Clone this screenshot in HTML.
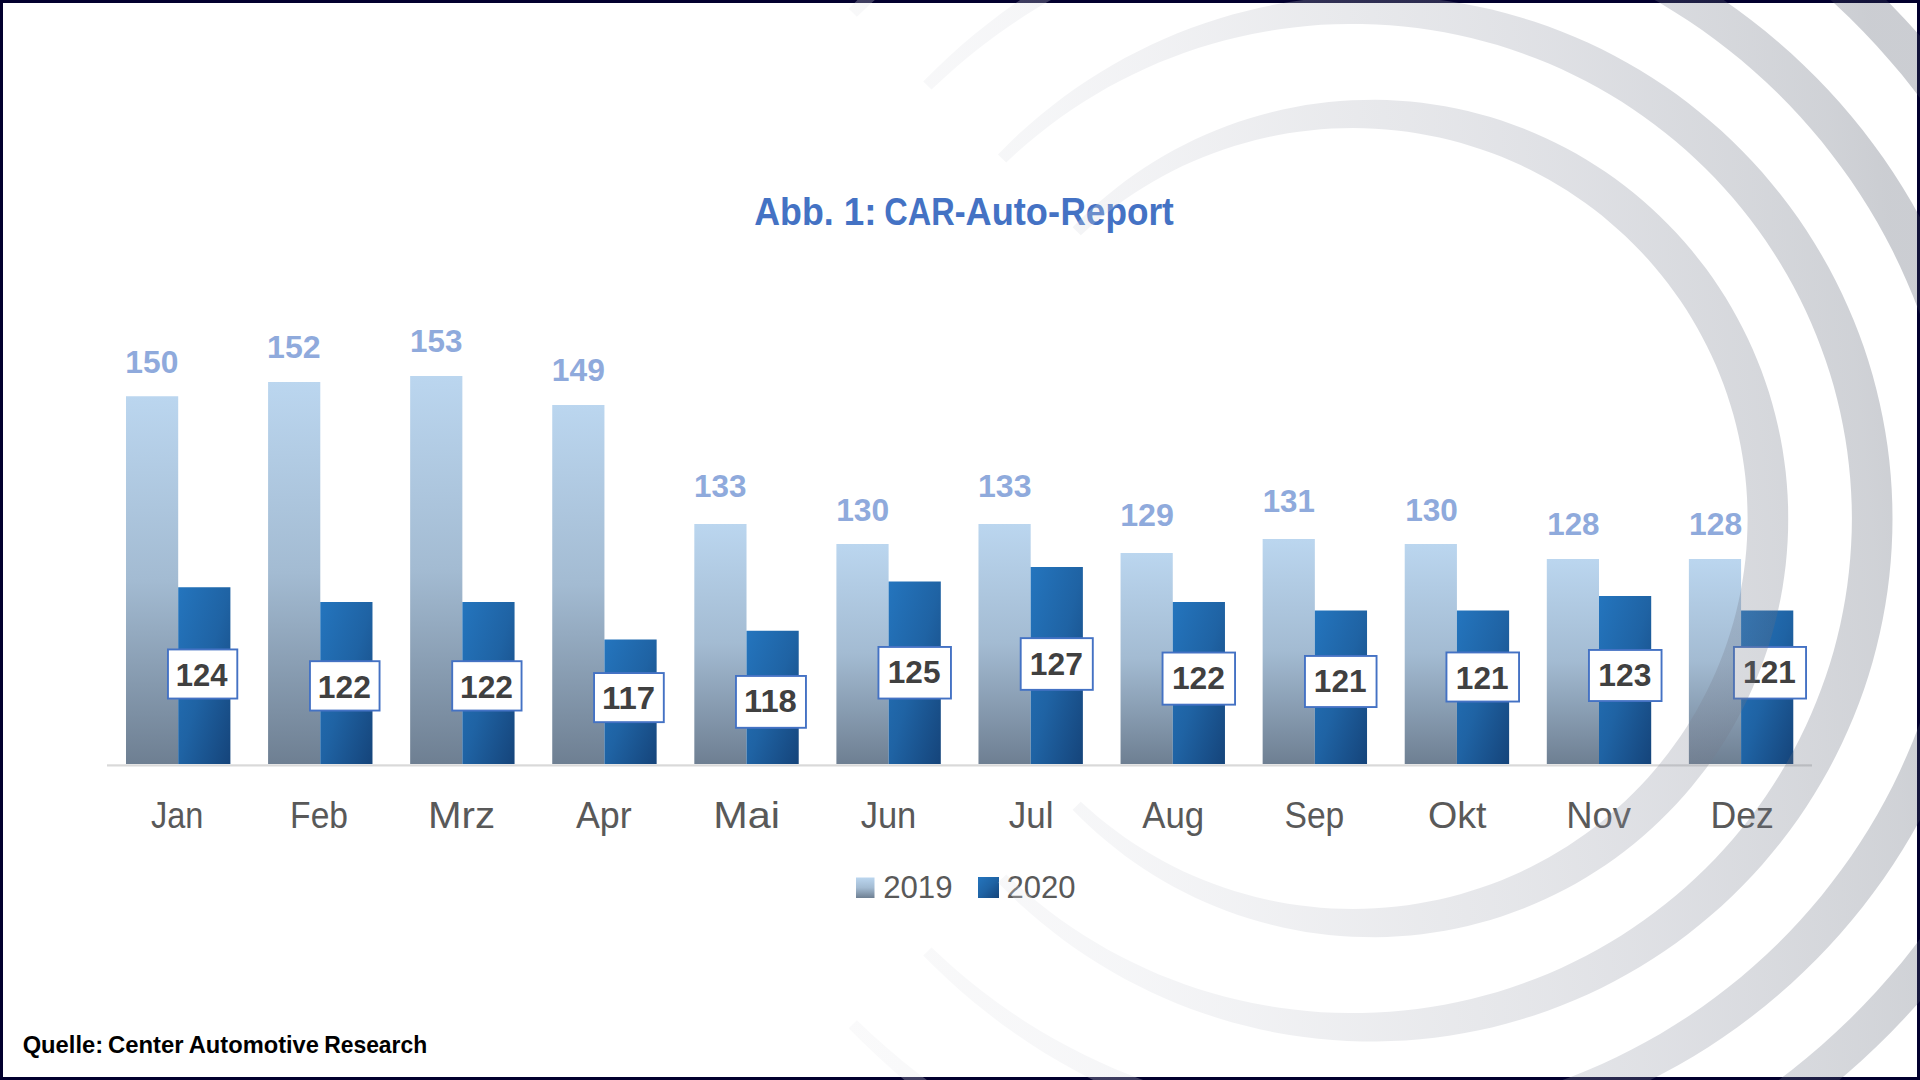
<!DOCTYPE html>
<html lang="de">
<head>
<meta charset="utf-8">
<title>Abb. 1: CAR-Auto-Report</title>
<style>
html,body{margin:0;padding:0;background:#fff;}
body{width:1920px;height:1080px;overflow:hidden;position:relative;font-family:"Liberation Sans",sans-serif;}
svg{position:absolute;left:0;top:0;display:block;}
text{font-family:"Liberation Sans",sans-serif;}
.t19{font-weight:bold;fill:#8faadc;}
.t20{font-weight:bold;fill:#404040;}
.mon{fill:#595959;}
.leg{fill:#595959;}
.title{font-weight:bold;fill:#4472c4;}
.src{font-weight:bold;fill:#000;}
</style>
</head>
<body>
<svg width="1920" height="1080" viewBox="0 0 1920 1080">
<defs>
<linearGradient id="g19" x1="0" y1="0" x2="0" y2="1">
<stop offset="0" stop-color="#bbd6ef"/>
<stop offset="0.5" stop-color="#a3bbd2"/>
<stop offset="1" stop-color="#6e7f92"/>
</linearGradient>
<linearGradient id="g20" x1="0" y1="0" x2="1" y2="1">
<stop offset="0" stop-color="#2475be"/>
<stop offset="0.5" stop-color="#1f63a4"/>
<stop offset="1" stop-color="#15447a"/>
</linearGradient>
<linearGradient id="gr" gradientUnits="userSpaceOnUse" x1="800" y1="540" x2="1920" y2="540" gradientTransform="rotate(-6 1400 540)">
<stop offset="0.0000" stop-color="#ececef"/>
<stop offset="0.1116" stop-color="#e4e5e9"/>
<stop offset="0.1786" stop-color="#e1e2e7"/>
<stop offset="0.2500" stop-color="#dbdde3"/>
<stop offset="0.3571" stop-color="#ccced6"/>
<stop offset="0.5000" stop-color="#b1b4be"/>
<stop offset="0.6250" stop-color="#9b9fac"/>
<stop offset="0.7321" stop-color="#858a9a"/>
<stop offset="0.8661" stop-color="#676e7e"/>
<stop offset="0.9554" stop-color="#51596a"/>
<stop offset="1.0000" stop-color="#40485a"/>
</linearGradient>
</defs>
<rect x="0" y="0" width="1920" height="1080" fill="#02002e"/>
<rect x="3" y="3" width="1914" height="1074" fill="#ffffff"/>
<rect x="107" y="764.3" width="1705" height="2.2" fill="#d9d9d9"/>
<rect x="126.00" y="396.25" width="52.20" height="367.75" fill="url(#g19)"/>
<rect x="178.20" y="587.25" width="52.20" height="176.75" fill="url(#g20)"/>
<rect x="268.08" y="382.00" width="52.20" height="382.00" fill="url(#g19)"/>
<rect x="320.28" y="602.00" width="52.20" height="162.00" fill="url(#g20)"/>
<rect x="410.16" y="376.00" width="52.20" height="388.00" fill="url(#g19)"/>
<rect x="462.36" y="602.00" width="52.20" height="162.00" fill="url(#g20)"/>
<rect x="552.24" y="405.00" width="52.20" height="359.00" fill="url(#g19)"/>
<rect x="604.44" y="639.50" width="52.20" height="124.50" fill="url(#g20)"/>
<rect x="694.32" y="524.00" width="52.20" height="240.00" fill="url(#g19)"/>
<rect x="746.52" y="630.75" width="52.20" height="133.25" fill="url(#g20)"/>
<rect x="836.40" y="544.00" width="52.20" height="220.00" fill="url(#g19)"/>
<rect x="888.60" y="581.50" width="52.20" height="182.50" fill="url(#g20)"/>
<rect x="978.48" y="524.00" width="52.20" height="240.00" fill="url(#g19)"/>
<rect x="1030.68" y="567.00" width="52.20" height="197.00" fill="url(#g20)"/>
<rect x="1120.56" y="553.00" width="52.20" height="211.00" fill="url(#g19)"/>
<rect x="1172.76" y="602.00" width="52.20" height="162.00" fill="url(#g20)"/>
<rect x="1262.64" y="539.00" width="52.20" height="225.00" fill="url(#g19)"/>
<rect x="1314.84" y="610.50" width="52.20" height="153.50" fill="url(#g20)"/>
<rect x="1404.72" y="544.00" width="52.20" height="220.00" fill="url(#g19)"/>
<rect x="1456.92" y="610.50" width="52.20" height="153.50" fill="url(#g20)"/>
<rect x="1546.80" y="559.00" width="52.20" height="205.00" fill="url(#g19)"/>
<rect x="1599.00" y="596.00" width="52.20" height="168.00" fill="url(#g20)"/>
<rect x="1688.88" y="559.00" width="52.20" height="205.00" fill="url(#g19)"/>
<rect x="1741.08" y="610.50" width="52.20" height="153.50" fill="url(#g20)"/>
<rect x="167.95" y="649.45" width="69.35" height="49.10" fill="#fff" stroke="#4472c4" stroke-width="1.9"/>
<rect x="309.95" y="661.20" width="69.60" height="49.35" fill="#fff" stroke="#4472c4" stroke-width="1.9"/>
<rect x="452.20" y="661.20" width="69.35" height="49.35" fill="#fff" stroke="#4472c4" stroke-width="1.9"/>
<rect x="594.05" y="673.05" width="69.75" height="49.10" fill="#fff" stroke="#4472c4" stroke-width="1.9"/>
<rect x="735.95" y="675.95" width="70.00" height="51.85" fill="#fff" stroke="#4472c4" stroke-width="1.9"/>
<rect x="878.45" y="646.95" width="72.50" height="51.60" fill="#fff" stroke="#4472c4" stroke-width="1.9"/>
<rect x="1020.70" y="638.15" width="72.10" height="51.70" fill="#fff" stroke="#4472c4" stroke-width="1.9"/>
<rect x="1162.55" y="652.55" width="72.50" height="52.10" fill="#fff" stroke="#4472c4" stroke-width="1.9"/>
<rect x="1304.95" y="655.95" width="71.60" height="51.10" fill="#fff" stroke="#4472c4" stroke-width="1.9"/>
<rect x="1446.45" y="652.45" width="72.60" height="49.10" fill="#fff" stroke="#4472c4" stroke-width="1.9"/>
<rect x="1588.95" y="649.95" width="72.60" height="51.10" fill="#fff" stroke="#4472c4" stroke-width="1.9"/>
<rect x="1733.95" y="646.95" width="72.10" height="51.60" fill="#fff" stroke="#4472c4" stroke-width="1.9"/>
<rect x="856" y="877.5" width="18.5" height="20.5" fill="url(#g19)"/>
<rect x="978" y="877" width="21" height="21" fill="url(#g20)"/>
<g><text class="title" font-size="38.1" transform="translate(754.29 224.70) scale(0.9379 1)">Abb. </text><text class="title" font-size="38.1" transform="translate(843.79 224.70) scale(0.9662 1)">1: </text><text class="title" font-size="38.1" transform="translate(884.30 224.70) scale(0.8524 1)">CAR-</text><text class="title" font-size="38.1" transform="translate(965.53 224.70) scale(0.9495 1)">Auto-</text><text class="title" font-size="38.1" transform="translate(1060.39 224.70) scale(0.9243 1)">Report</text></g>
<g><text class="src" font-size="23.5" transform="translate(22.65 1052.80) scale(1.0100 1)">Quelle: </text><text class="src" font-size="23.5" transform="translate(108.05 1052.80) scale(1.0153 1)">Center </text><text class="src" font-size="23.5" transform="translate(188.73 1052.80) scale(1.0081 1)">Automotive </text><text class="src" font-size="23.5" transform="translate(324.23 1052.80) scale(0.9730 1)">Research</text></g>
<text class="mon" font-size="36.7" transform="translate(150.92 827.50) scale(0.8856 1)">Jan</text>
<text class="mon" font-size="36.7" transform="translate(290.11 827.50) scale(0.9156 1)">Feb</text>
<text class="mon" font-size="36.7" transform="translate(427.98 827.50) scale(1.0980 1)">Mrz</text>
<text class="mon" font-size="36.7" transform="translate(575.90 827.50) scale(0.9773 1)">Apr</text>
<text class="mon" font-size="36.7" transform="translate(713.28 827.50) scale(1.1295 1)">Mai</text>
<text class="mon" font-size="36.7" transform="translate(860.65 827.50) scale(0.9411 1)">Jun</text>
<text class="mon" font-size="36.7" transform="translate(1008.75 827.50) scale(0.9522 1)">Jul</text>
<text class="mon" font-size="36.7" transform="translate(1142.20 827.50) scale(0.9488 1)">Aug</text>
<text class="mon" font-size="36.7" transform="translate(1284.56 827.50) scale(0.9151 1)">Sep</text>
<text class="mon" font-size="36.7" transform="translate(1427.89 827.50) scale(1.0268 1)">Okt</text>
<text class="mon" font-size="36.7" transform="translate(1566.19 827.50) scale(0.9915 1)">Nov</text>
<text class="mon" font-size="36.7" transform="translate(1710.55 827.50) scale(0.9711 1)">Dez</text>
<text class="leg" font-size="30.8" transform="translate(883.14 897.80) scale(1.0129 1)">2019</text>
<text class="leg" font-size="30.8" transform="translate(1006.45 897.80) scale(1.0081 1)">2020</text>
<text class="t19" font-size="30.8" transform="translate(125.34 372.75) scale(1.0325 1)">150</text>
<text class="t19" font-size="30.8" transform="translate(267.08 358.10) scale(1.0407 1)">152</text>
<text class="t19" font-size="30.8" transform="translate(410.02 351.90) scale(1.0191 1)">153</text>
<text class="t19" font-size="30.8" transform="translate(551.84 381.00) scale(1.0325 1)">149</text>
<text class="t19" font-size="30.8" transform="translate(694.02 496.60) scale(1.0191 1)">133</text>
<text class="t19" font-size="30.8" transform="translate(836.19 520.90) scale(1.0325 1)">130</text>
<text class="t19" font-size="30.8" transform="translate(978.08 496.60) scale(1.0387 1)">133</text>
<text class="t19" font-size="30.8" transform="translate(1120.17 525.90) scale(1.0459 1)">129</text>
<text class="t19" font-size="30.8" transform="translate(1262.72 512.25) scale(1.0157 1)">131</text>
<text class="t19" font-size="30.8" transform="translate(1405.20 520.90) scale(1.0263 1)">130</text>
<text class="t19" font-size="30.8" transform="translate(1547.22 534.90) scale(1.0188 1)">128</text>
<text class="t19" font-size="30.8" transform="translate(1689.09 534.90) scale(1.0311 1)">128</text>
<text class="t20" font-size="31.4" transform="translate(175.76 685.80) scale(0.9876 1)">124</text>
<text class="t20" font-size="31.4" transform="translate(317.84 697.55) scale(1.0128 1)">122</text>
<text class="t20" font-size="31.4" transform="translate(459.97 697.55) scale(1.0128 1)">122</text>
<text class="t20" font-size="31.4" transform="translate(601.95 709.40) scale(1.0496 1)">117</text>
<text class="t20" font-size="31.4" transform="translate(743.99 712.30) scale(1.0427 1)">118</text>
<text class="t20" font-size="31.4" transform="translate(887.80 683.30) scale(1.0064 1)">125</text>
<text class="t20" font-size="31.4" transform="translate(1029.84 674.50) scale(1.0128 1)">127</text>
<text class="t20" font-size="31.4" transform="translate(1171.89 688.90) scale(1.0128 1)">122</text>
<text class="t20" font-size="31.4" transform="translate(1313.85 692.30) scale(1.0064 1)">121</text>
<text class="t20" font-size="31.4" transform="translate(1455.85 688.80) scale(1.0064 1)">121</text>
<text class="t20" font-size="31.4" transform="translate(1598.34 686.30) scale(1.0128 1)">123</text>
<text class="t20" font-size="31.4" transform="translate(1743.10 683.30) scale(1.0064 1)">121</text>
<g fill="url(#gr)" fill-opacity="0.27">
<path d="M1072.6 809.7L1080.8 817.9L1089.2 826.0L1097.8 833.8L1106.7 841.3L1115.7 848.6L1124.9 855.7L1134.4 862.4L1144.0 869.0L1153.8 875.2L1163.8 881.2L1174.0 886.9L1184.3 892.3L1194.7 897.4L1205.3 902.3L1216.1 906.8L1226.9 911.0L1237.9 914.9L1249.0 918.5L1260.1 921.8L1271.4 924.8L1282.8 927.5L1294.2 929.8L1305.7 931.9L1317.2 933.6L1328.8 934.9L1340.4 936.0L1352.0 936.7L1363.7 937.1L1375.4 937.2L1387.0 936.9L1398.7 936.3L1410.3 935.4L1421.9 934.2L1433.5 932.6L1445.0 930.7L1456.4 928.5L1467.8 925.9L1479.1 923.1L1490.4 919.9L1501.5 916.4L1512.5 912.6L1523.4 908.5L1534.2 904.0L1544.9 899.3L1555.4 894.3L1565.8 889.0L1576.0 883.4L1586.1 877.5L1596.0 871.3L1605.7 864.9L1615.3 858.2L1624.6 851.2L1633.8 844.0L1642.7 836.5L1651.4 828.8L1659.9 820.8L1668.2 812.6L1676.2 804.2L1684.1 795.5L1691.6 786.7L1698.9 777.6L1706.0 768.4L1712.8 758.9L1719.3 749.3L1725.6 739.4L1731.5 729.5L1737.2 719.3L1742.6 709.0L1747.8 698.6L1752.6 688.0L1757.1 677.3L1761.4 666.4L1765.3 655.5L1769.0 644.4L1772.3 633.3L1775.3 622.1L1778.0 610.8L1780.4 599.4L1782.5 587.9L1784.2 576.4L1785.7 564.9L1786.8 553.3L1787.6 541.7L1788.1 530.1L1788.2 518.5L1788.1 506.9L1787.6 495.3L1786.8 483.7L1785.7 472.1L1784.2 460.6L1782.5 449.1L1780.4 437.6L1778.0 426.2L1775.3 414.9L1772.3 403.7L1769.0 392.6L1765.3 381.5L1761.4 370.6L1757.1 359.7L1752.6 349.0L1747.8 338.4L1742.6 328.0L1737.2 317.7L1731.5 307.5L1725.6 297.6L1719.3 287.7L1712.8 278.1L1706.0 268.6L1698.9 259.4L1691.6 250.3L1684.1 241.5L1676.2 232.8L1668.2 224.4L1659.9 216.2L1651.4 208.2L1642.7 200.5L1633.8 193.0L1624.6 185.8L1615.3 178.8L1605.7 172.1L1596.0 165.7L1586.1 159.5L1576.0 153.6L1565.8 148.0L1555.4 142.7L1544.9 137.7L1534.2 133.0L1523.4 128.5L1512.5 124.4L1501.5 120.6L1490.4 117.1L1479.1 113.9L1467.8 111.1L1456.4 108.5L1445.0 106.3L1433.5 104.4L1421.9 102.8L1410.3 101.6L1398.7 100.7L1387.0 100.1L1375.4 99.8L1363.7 99.9L1352.0 100.3L1340.4 101.0L1328.8 102.1L1317.2 103.4L1305.7 105.1L1294.2 107.2L1282.8 109.5L1271.4 112.2L1260.1 115.2L1249.0 118.5L1237.9 122.1L1226.9 126.0L1216.1 130.2L1205.3 134.7L1194.7 139.6L1184.3 144.7L1174.0 150.1L1163.8 155.8L1153.8 161.8L1144.0 168.0L1134.4 174.6L1124.9 181.3L1115.7 188.4L1106.7 195.7L1097.8 203.2L1089.2 211.0L1080.8 219.1L1072.6 227.3L1080.8 235.3L1089.2 227.7L1097.7 220.3L1106.5 213.2L1115.4 206.4L1124.5 199.8L1133.8 193.5L1143.3 187.5L1152.9 181.7L1162.6 176.2L1172.5 171.0L1182.5 166.1L1192.7 161.5L1202.9 157.2L1213.3 153.2L1223.7 149.4L1234.3 146.0L1244.9 142.9L1255.6 140.0L1266.3 137.5L1277.1 135.3L1287.9 133.3L1298.8 131.7L1309.7 130.4L1320.6 129.3L1331.5 128.6L1342.4 128.2L1353.3 128.1L1364.2 128.2L1375.1 128.7L1385.9 129.4L1396.7 130.5L1407.5 131.8L1418.2 133.5L1428.8 135.4L1439.4 137.6L1449.9 140.1L1460.3 142.8L1470.6 145.9L1480.8 149.2L1491.0 152.8L1501.0 156.6L1510.9 160.7L1520.6 165.1L1530.3 169.8L1539.8 174.7L1549.1 179.8L1558.3 185.2L1567.4 190.8L1576.2 196.7L1585.0 202.8L1593.5 209.1L1601.9 215.6L1610.0 222.4L1618.0 229.4L1625.8 236.5L1633.4 243.9L1640.8 251.5L1648.0 259.3L1654.9 267.2L1661.7 275.4L1668.2 283.7L1674.4 292.2L1680.5 300.8L1686.3 309.6L1691.8 318.6L1697.2 327.7L1702.2 336.9L1707.0 346.2L1711.6 355.7L1715.9 365.3L1719.9 375.0L1723.7 384.8L1727.2 394.8L1730.4 404.8L1733.4 414.8L1736.1 425.0L1738.5 435.2L1740.6 445.5L1742.4 455.8L1744.0 466.2L1745.3 476.6L1746.3 487.1L1747.0 497.5L1747.4 508.0L1747.6 518.5L1747.4 529.0L1747.0 539.5L1746.3 549.9L1745.3 560.4L1744.0 570.8L1742.4 581.2L1740.6 591.5L1738.5 601.8L1736.1 612.0L1733.4 622.2L1730.4 632.2L1727.2 642.2L1723.7 652.2L1719.9 662.0L1715.9 671.7L1711.6 681.3L1707.0 690.8L1702.2 700.1L1697.2 709.3L1691.8 718.4L1686.3 727.4L1680.5 736.2L1674.4 744.8L1668.2 753.3L1661.7 761.6L1654.9 769.8L1648.0 777.7L1640.8 785.5L1633.4 793.1L1625.8 800.5L1618.0 807.6L1610.0 814.6L1601.9 821.4L1593.5 827.9L1585.0 834.2L1576.2 840.3L1567.4 846.2L1558.3 851.8L1549.1 857.2L1539.8 862.3L1530.3 867.2L1520.6 871.9L1510.9 876.3L1501.0 880.4L1491.0 884.2L1480.8 887.8L1470.6 891.1L1460.3 894.2L1449.9 896.9L1439.4 899.4L1428.8 901.6L1418.2 903.5L1407.5 905.2L1396.7 906.5L1385.9 907.6L1375.1 908.3L1364.2 908.8L1353.3 908.9L1342.4 908.8L1331.5 908.4L1320.6 907.7L1309.7 906.6L1298.8 905.3L1287.9 903.7L1277.1 901.7L1266.3 899.5L1255.6 897.0L1244.9 894.1L1234.3 891.0L1223.7 887.6L1213.3 883.8L1202.9 879.8L1192.7 875.5L1182.5 870.9L1172.5 866.0L1162.6 860.8L1152.9 855.3L1143.3 849.5L1133.8 843.5L1124.5 837.2L1115.4 830.6L1106.5 823.8L1097.7 816.7L1089.2 809.3L1080.8 801.7Z"/>
<path d="M998.0 882.5L1008.2 892.8L1018.7 902.9L1029.5 912.6L1040.6 922.0L1051.9 931.1L1063.5 939.9L1075.3 948.4L1087.3 956.5L1099.6 964.3L1112.1 971.8L1124.8 978.9L1137.7 985.6L1150.7 992.0L1164.0 998.0L1177.4 1003.7L1191.0 1008.9L1204.7 1013.8L1218.5 1018.3L1232.5 1022.4L1246.6 1026.1L1260.8 1029.5L1275.0 1032.4L1289.4 1034.9L1303.8 1037.0L1318.3 1038.7L1332.8 1040.0L1347.3 1040.9L1361.9 1041.4L1376.5 1041.5L1391.0 1041.1L1405.6 1040.4L1420.1 1039.2L1434.6 1037.7L1449.0 1035.7L1463.4 1033.3L1477.7 1030.6L1491.9 1027.4L1506.1 1023.8L1520.1 1019.8L1534.0 1015.5L1547.8 1010.7L1561.4 1005.6L1574.9 1000.1L1588.2 994.2L1601.4 987.9L1614.4 981.3L1627.1 974.3L1639.7 967.0L1652.1 959.3L1664.3 951.2L1676.2 942.9L1687.8 934.2L1699.3 925.1L1710.4 915.8L1721.4 906.2L1732.0 896.2L1742.3 886.0L1752.4 875.5L1762.2 864.7L1771.6 853.6L1780.8 842.3L1789.6 830.7L1798.1 818.9L1806.2 806.9L1814.1 794.6L1821.6 782.1L1828.7 769.5L1835.5 756.6L1841.9 743.5L1847.9 730.3L1853.6 716.9L1858.9 703.4L1863.9 689.7L1868.4 675.9L1872.6 662.0L1876.3 648.0L1879.7 633.8L1882.7 619.6L1885.3 605.3L1887.5 590.9L1889.3 576.5L1890.7 562.0L1891.7 547.6L1892.3 533.0L1892.5 518.5L1892.3 504.0L1891.7 489.4L1890.7 475.0L1889.3 460.5L1887.5 446.1L1885.3 431.7L1882.7 417.4L1879.7 403.2L1876.3 389.0L1872.6 375.0L1868.4 361.1L1863.9 347.3L1858.9 333.6L1853.6 320.1L1847.9 306.7L1841.9 293.5L1835.5 280.4L1828.7 267.5L1821.6 254.9L1814.1 242.4L1806.2 230.1L1798.1 218.1L1789.6 206.3L1780.8 194.7L1771.6 183.4L1762.2 172.3L1752.4 161.5L1742.3 151.0L1732.0 140.8L1721.4 130.8L1710.4 121.2L1699.3 111.9L1687.8 102.8L1676.2 94.1L1664.3 85.8L1652.1 77.7L1639.7 70.0L1627.1 62.7L1614.4 55.7L1601.4 49.1L1588.2 42.8L1574.9 36.9L1561.4 31.4L1547.8 26.3L1534.0 21.5L1520.1 17.2L1506.1 13.2L1491.9 9.6L1477.7 6.4L1463.4 3.7L1449.0 1.3L1434.6 -0.7L1420.1 -2.2L1405.6 -3.4L1391.0 -4.1L1376.5 -4.5L1361.9 -4.4L1347.3 -3.9L1332.8 -3.0L1318.3 -1.7L1303.8 -0.0L1289.4 2.1L1275.0 4.6L1260.8 7.5L1246.6 10.9L1232.5 14.6L1218.5 18.7L1204.7 23.2L1191.0 28.1L1177.4 33.3L1164.0 39.0L1150.7 45.0L1137.7 51.4L1124.8 58.1L1112.1 65.2L1099.6 72.7L1087.3 80.5L1075.3 88.6L1063.5 97.1L1051.9 105.9L1040.6 115.0L1029.5 124.4L1018.7 134.1L1008.2 144.2L998.0 154.5L1006.2 162.5L1016.6 152.8L1027.2 143.4L1038.2 134.4L1049.3 125.7L1060.7 117.3L1072.3 109.2L1084.2 101.5L1096.2 94.2L1108.4 87.1L1120.8 80.5L1133.4 74.2L1146.1 68.2L1158.9 62.6L1172.0 57.4L1185.1 52.6L1198.3 48.1L1211.7 44.0L1225.1 40.3L1238.7 36.9L1252.2 34.0L1265.9 31.4L1279.6 29.2L1293.4 27.4L1307.2 25.9L1321.0 24.8L1334.8 24.2L1348.6 23.9L1362.4 23.9L1376.2 24.4L1389.9 25.2L1403.6 26.4L1417.3 28.0L1430.8 29.9L1444.4 32.2L1457.8 34.9L1471.2 38.0L1484.4 41.4L1497.5 45.1L1510.6 49.2L1523.5 53.7L1536.2 58.5L1548.8 63.6L1561.3 69.1L1573.6 74.9L1585.7 81.0L1597.7 87.5L1609.4 94.3L1621.0 101.3L1632.3 108.7L1643.5 116.4L1654.4 124.4L1665.1 132.7L1675.6 141.2L1685.8 150.1L1695.8 159.2L1705.5 168.5L1714.9 178.1L1724.1 188.0L1733.0 198.1L1741.7 208.5L1750.0 219.0L1758.0 229.8L1765.8 240.8L1773.2 252.0L1780.4 263.4L1787.2 275.0L1793.7 286.7L1799.9 298.7L1805.7 310.7L1811.2 323.0L1816.4 335.4L1821.2 347.9L1825.7 360.5L1829.9 373.3L1833.7 386.1L1837.1 399.1L1840.2 412.1L1842.9 425.3L1845.3 438.5L1847.3 451.7L1848.9 465.0L1850.2 478.4L1851.1 491.7L1851.7 505.1L1851.9 518.5L1851.7 531.9L1851.1 545.3L1850.2 558.6L1848.9 572.0L1847.3 585.3L1845.3 598.5L1842.9 611.7L1840.2 624.9L1837.1 637.9L1833.7 650.9L1829.9 663.7L1825.7 676.5L1821.2 689.1L1816.4 701.6L1811.2 714.0L1805.7 726.3L1799.9 738.3L1793.7 750.3L1787.2 762.0L1780.4 773.6L1773.2 785.0L1765.8 796.2L1758.0 807.2L1750.0 818.0L1741.7 828.5L1733.0 838.9L1724.1 849.0L1714.9 858.9L1705.5 868.5L1695.8 877.8L1685.8 886.9L1675.6 895.8L1665.1 904.3L1654.4 912.6L1643.5 920.6L1632.3 928.3L1621.0 935.7L1609.4 942.7L1597.7 949.5L1585.7 956.0L1573.6 962.1L1561.3 967.9L1548.8 973.4L1536.2 978.5L1523.5 983.3L1510.6 987.8L1497.5 991.9L1484.4 995.6L1471.2 999.0L1457.8 1002.1L1444.4 1004.8L1430.8 1007.1L1417.3 1009.0L1403.6 1010.6L1389.9 1011.8L1376.2 1012.6L1362.4 1013.1L1348.6 1013.1L1334.8 1012.8L1321.0 1012.2L1307.2 1011.1L1293.4 1009.6L1279.6 1007.8L1265.9 1005.6L1252.2 1003.0L1238.7 1000.1L1225.1 996.7L1211.7 993.0L1198.3 988.9L1185.1 984.4L1172.0 979.6L1158.9 974.4L1146.1 968.8L1133.4 962.8L1120.8 956.5L1108.4 949.9L1096.2 942.8L1084.2 935.5L1072.3 927.8L1060.7 919.7L1049.3 911.3L1038.2 902.6L1027.2 893.6L1016.6 884.2L1006.2 874.5Z"/>
<path d="M923.3 955.4L935.6 967.7L948.2 979.7L961.2 991.4L974.5 1002.7L988.1 1013.6L1002.0 1024.2L1016.2 1034.3L1030.6 1044.1L1045.4 1053.4L1060.4 1062.3L1075.6 1070.8L1091.1 1078.9L1106.8 1086.6L1122.7 1093.8L1138.8 1100.5L1155.0 1106.8L1171.5 1112.7L1188.1 1118.1L1204.9 1123.0L1221.8 1127.4L1238.8 1131.4L1255.9 1134.9L1273.1 1137.9L1290.4 1140.0L1307.8 1140.0L1325.2 1140.0L1342.6 1140.0L1360.1 1140.0L1377.5 1140.0L1395.0 1140.0L1412.5 1140.0L1429.9 1140.0L1447.3 1140.0L1464.6 1138.8L1481.8 1136.0L1499.0 1132.7L1516.1 1128.9L1533.0 1124.6L1549.8 1119.8L1566.5 1114.6L1583.0 1108.9L1599.4 1102.7L1615.6 1096.1L1631.6 1089.1L1647.3 1081.6L1662.9 1073.6L1678.2 1065.2L1693.3 1056.4L1708.2 1047.2L1722.8 1037.6L1737.1 1027.6L1751.1 1017.1L1764.8 1006.3L1778.2 995.1L1791.3 983.5L1804.0 971.6L1816.5 959.3L1828.5 946.7L1840.3 933.8L1851.6 920.5L1862.6 906.9L1873.2 893.1L1883.4 878.9L1893.2 864.5L1902.6 849.8L1911.6 834.8L1920.1 819.6L1928.3 804.2L1936.0 788.5L1943.3 772.6L1950.1 756.6L1956.5 740.4L1962.4 724.0L1967.8 707.4L1972.8 690.7L1977.4 673.8L1980.0 656.9L1980.0 639.8L1980.0 622.7L1980.0 605.4L1980.0 588.1L1980.0 570.8L1980.0 553.4L1980.0 535.9L1980.0 518.5L1980.0 501.1L1980.0 483.6L1980.0 466.2L1980.0 448.9L1980.0 431.6L1980.0 414.3L1980.0 397.2L1980.0 380.1L1977.4 363.2L1972.8 346.3L1967.8 329.6L1962.4 313.0L1956.5 296.6L1950.1 280.4L1943.3 264.4L1936.0 248.5L1928.3 232.8L1920.1 217.4L1911.6 202.2L1902.6 187.2L1893.2 172.5L1883.4 158.1L1873.2 143.9L1862.6 130.1L1851.6 116.5L1840.3 103.2L1828.5 90.3L1816.5 77.7L1804.0 65.4L1791.3 53.5L1778.2 41.9L1764.8 30.7L1751.1 19.9L1737.1 9.4L1722.8 -0.6L1708.2 -10.2L1693.3 -19.4L1678.2 -28.2L1662.9 -36.6L1647.3 -44.6L1631.6 -52.1L1615.6 -59.1L1599.4 -60.0L1583.0 -60.0L1566.5 -60.0L1549.8 -60.0L1533.0 -60.0L1516.1 -60.0L1499.0 -60.0L1481.8 -60.0L1464.6 -60.0L1447.3 -60.0L1429.9 -60.0L1412.5 -60.0L1395.0 -60.0L1377.5 -60.0L1360.1 -60.0L1342.6 -60.0L1325.2 -60.0L1307.8 -60.0L1290.4 -60.0L1273.1 -60.0L1255.9 -60.0L1238.8 -60.0L1221.8 -60.0L1204.9 -60.0L1188.1 -60.0L1171.5 -60.0L1155.0 -60.0L1138.8 -60.0L1122.7 -56.8L1106.8 -49.6L1091.1 -41.9L1075.6 -33.8L1060.4 -25.3L1045.4 -16.4L1030.6 -7.1L1016.2 2.7L1002.0 12.8L988.1 23.4L974.5 34.3L961.2 45.6L948.2 57.3L935.6 69.3L923.3 81.6L931.5 89.6L944.0 77.9L956.8 66.6L969.9 55.6L983.2 45.0L996.9 34.8L1010.8 25.0L1025.0 15.6L1039.5 6.6L1054.2 -1.9L1069.1 -10.1L1084.2 -17.8L1099.5 -25.1L1115.0 -31.9L1130.6 -38.3L1146.4 -44.3L1162.4 -49.8L1178.5 -54.9L1194.7 -59.5L1211.0 -60.0L1227.4 -60.0L1243.9 -60.0L1260.5 -60.0L1277.1 -60.0L1293.7 -60.0L1310.4 -60.0L1327.1 -60.0L1343.9 -60.0L1360.6 -60.0L1377.2 -60.0L1393.9 -60.0L1410.5 -60.0L1427.0 -60.0L1443.5 -60.0L1459.9 -60.0L1476.2 -60.0L1492.4 -60.0L1508.5 -60.0L1524.5 -55.7L1540.3 -50.8L1556.0 -45.4L1571.5 -39.7L1586.8 -33.5L1602.0 -27.0L1616.9 -20.0L1631.7 -12.6L1646.2 -4.8L1660.5 3.3L1674.6 11.9L1688.4 20.8L1702.0 30.1L1715.3 39.7L1728.3 49.7L1741.1 60.1L1753.5 70.8L1765.7 81.8L1777.5 93.1L1789.1 104.8L1800.3 116.7L1811.1 129.0L1821.7 141.5L1831.8 154.4L1841.6 167.4L1851.1 180.8L1860.2 194.4L1868.9 208.2L1877.2 222.3L1885.1 236.6L1892.7 251.1L1899.8 265.8L1906.5 280.7L1912.9 295.7L1918.8 310.9L1924.2 326.3L1929.3 341.8L1933.9 357.5L1938.1 373.2L1941.9 389.1L1945.2 405.1L1948.1 421.1L1950.6 437.2L1952.6 453.4L1954.1 469.6L1955.3 485.9L1955.9 502.2L1956.2 518.5L1955.9 534.8L1955.3 551.1L1954.1 567.4L1952.6 583.6L1950.6 599.8L1948.1 615.9L1945.2 631.9L1941.9 647.9L1938.1 663.8L1933.9 679.5L1929.3 695.2L1924.2 710.7L1918.8 726.1L1912.9 741.3L1906.5 756.3L1899.8 771.2L1892.7 785.9L1885.1 800.4L1877.2 814.7L1868.9 828.8L1860.2 842.6L1851.1 856.2L1841.6 869.6L1831.8 882.6L1821.7 895.5L1811.1 908.0L1800.3 920.3L1789.1 932.2L1777.5 943.9L1765.7 955.2L1753.5 966.2L1741.1 976.9L1728.3 987.3L1715.3 997.3L1702.0 1006.9L1688.4 1016.2L1674.6 1025.1L1660.5 1033.7L1646.2 1041.8L1631.7 1049.6L1616.9 1057.0L1602.0 1064.0L1586.8 1070.5L1571.5 1076.7L1556.0 1082.4L1540.3 1087.8L1524.5 1092.7L1508.5 1097.1L1492.4 1101.1L1476.2 1104.7L1459.9 1107.9L1443.5 1110.6L1427.0 1112.9L1410.5 1114.7L1393.9 1116.0L1377.2 1116.9L1360.6 1117.4L1343.9 1117.3L1327.1 1116.9L1310.4 1115.9L1293.7 1114.5L1277.1 1112.7L1260.5 1110.4L1243.9 1107.6L1227.4 1104.3L1211.0 1100.6L1194.7 1096.5L1178.5 1091.9L1162.4 1086.8L1146.4 1081.3L1130.6 1075.3L1115.0 1068.9L1099.5 1062.1L1084.2 1054.8L1069.1 1047.1L1054.2 1038.9L1039.5 1030.4L1025.0 1021.4L1010.8 1012.0L996.9 1002.2L983.2 992.0L969.9 981.4L956.8 970.4L944.0 959.1L931.5 947.4Z"/>
<path d="M848.7 1028.2L863.0 1042.6L877.8 1056.6L892.9 1070.2L908.4 1083.4L924.3 1096.1L940.5 1108.4L957.0 1120.2L973.9 1131.6L991.1 1140.0L1008.6 1140.0L1026.4 1140.0L1044.5 1140.0L1062.8 1140.0L1081.3 1140.0L1100.1 1140.0L1119.1 1140.0L1138.3 1140.0L1157.7 1140.0L1177.2 1140.0L1196.9 1140.0L1216.8 1140.0L1236.7 1140.0L1256.8 1140.0L1277.0 1140.0L1297.2 1140.0L1317.5 1140.0L1337.9 1140.0L1358.2 1140.0L1378.6 1140.0L1399.0 1140.0L1419.4 1140.0L1439.7 1140.0L1460.0 1140.0L1480.2 1140.0L1500.3 1140.0L1520.3 1140.0L1540.2 1140.0L1559.9 1140.0L1579.6 1140.0L1599.0 1140.0L1618.3 1140.0L1637.4 1140.0L1656.2 1140.0L1674.9 1140.0L1693.3 1140.0L1711.5 1140.0L1729.3 1140.0L1747.0 1140.0L1764.3 1135.2L1781.3 1123.9L1798.0 1112.2L1814.3 1100.1L1830.3 1087.5L1845.9 1074.4L1861.2 1060.9L1876.1 1047.0L1890.6 1032.7L1904.7 1018.0L1918.4 1002.9L1931.6 987.4L1944.4 971.6L1956.8 955.4L1968.7 938.9L1980.0 922.1L1980.0 904.9L1980.0 887.5L1980.0 869.7L1980.0 851.7L1980.0 833.5L1980.0 815.0L1980.0 796.3L1980.0 777.3L1980.0 758.2L1980.0 738.9L1980.0 719.4L1980.0 699.7L1980.0 679.9L1980.0 660.0L1980.0 640.0L1980.0 619.9L1980.0 599.7L1980.0 579.5L1980.0 559.2L1980.0 538.8L1980.0 518.5L1980.0 498.2L1980.0 477.8L1980.0 457.5L1980.0 437.3L1980.0 417.1L1980.0 397.0L1980.0 377.0L1980.0 357.1L1980.0 337.3L1980.0 317.6L1980.0 298.1L1980.0 278.8L1980.0 259.7L1980.0 240.7L1980.0 222.0L1980.0 203.5L1980.0 185.3L1980.0 167.3L1980.0 149.5L1980.0 132.1L1980.0 114.9L1968.7 98.1L1956.8 81.6L1944.4 65.4L1931.6 49.6L1918.4 34.1L1904.7 19.0L1890.6 4.3L1876.1 -10.0L1861.2 -23.9L1845.9 -37.4L1830.3 -50.5L1814.3 -60.0L1798.0 -60.0L1781.3 -60.0L1764.3 -60.0L1747.0 -60.0L1729.3 -60.0L1711.5 -60.0L1693.3 -60.0L1674.9 -60.0L1656.2 -60.0L1637.4 -60.0L1618.3 -60.0L1599.0 -60.0L1579.6 -60.0L1559.9 -60.0L1540.2 -60.0L1520.3 -60.0L1500.3 -60.0L1480.2 -60.0L1460.0 -60.0L1439.7 -60.0L1419.4 -60.0L1399.0 -60.0L1378.6 -60.0L1358.2 -60.0L1337.9 -60.0L1317.5 -60.0L1297.2 -60.0L1277.0 -60.0L1256.8 -60.0L1236.7 -60.0L1216.8 -60.0L1196.9 -60.0L1177.2 -60.0L1157.7 -60.0L1138.3 -60.0L1119.1 -60.0L1100.1 -60.0L1081.3 -60.0L1062.8 -60.0L1044.5 -60.0L1026.4 -60.0L1008.6 -60.0L991.1 -60.0L973.9 -60.0L957.0 -60.0L940.5 -60.0L924.3 -59.1L908.4 -46.4L892.9 -33.2L877.8 -19.6L863.0 -5.6L848.7 8.8L856.9 16.8L871.4 3.0L886.3 -10.3L901.5 -23.2L917.2 -35.7L933.1 -47.7L949.4 -59.3L965.9 -60.0L982.8 -60.0L999.9 -60.0L1017.3 -60.0L1035.0 -60.0L1052.9 -60.0L1071.0 -60.0L1089.3 -60.0L1107.8 -60.0L1126.5 -60.0L1145.3 -60.0L1164.3 -60.0L1183.4 -60.0L1202.6 -60.0L1221.9 -60.0L1241.3 -60.0L1260.8 -60.0L1280.3 -60.0L1299.9 -60.0L1319.5 -60.0L1339.1 -60.0L1358.7 -60.0L1378.3 -60.0L1397.9 -60.0L1417.4 -60.0L1436.8 -60.0L1456.2 -60.0L1475.5 -60.0L1494.7 -60.0L1513.7 -60.0L1532.6 -60.0L1551.4 -60.0L1570.0 -60.0L1588.5 -60.0L1606.7 -60.0L1624.8 -60.0L1642.6 -60.0L1660.2 -60.0L1677.6 -60.0L1694.7 -60.0L1711.6 -60.0L1728.2 -60.0L1744.5 -60.0L1760.5 -56.3L1776.2 -45.0L1791.5 -33.2L1806.6 -21.1L1821.3 -8.5L1835.6 4.4L1849.6 17.7L1863.2 31.4L1876.4 45.5L1889.2 59.9L1901.7 74.6L1913.7 89.7L1925.3 105.1L1936.4 120.8L1947.1 136.8L1957.4 153.1L1967.2 169.6L1976.6 186.5L1980.0 203.5L1980.0 220.8L1980.0 238.3L1980.0 256.0L1980.0 274.0L1980.0 292.1L1980.0 310.3L1980.0 328.8L1980.0 347.3L1980.0 366.0L1980.0 384.8L1980.0 403.7L1980.0 422.7L1980.0 441.8L1980.0 460.9L1980.0 480.1L1980.0 499.3L1980.0 518.5L1980.0 537.7L1980.0 556.9L1980.0 576.1L1980.0 595.2L1980.0 614.3L1980.0 633.3L1980.0 652.2L1980.0 671.0L1980.0 689.7L1980.0 708.2L1980.0 726.7L1980.0 744.9L1980.0 763.0L1980.0 781.0L1980.0 798.7L1980.0 816.2L1980.0 833.5L1976.6 850.5L1967.2 867.4L1957.4 883.9L1947.1 900.2L1936.4 916.2L1925.3 931.9L1913.7 947.3L1901.7 962.4L1889.2 977.1L1876.4 991.5L1863.2 1005.6L1849.6 1019.3L1835.6 1032.6L1821.3 1045.5L1806.6 1058.1L1791.5 1070.2L1776.2 1082.0L1760.5 1093.3L1744.5 1104.2L1728.2 1114.6L1711.6 1124.6L1694.7 1134.1L1677.6 1140.0L1660.2 1140.0L1642.6 1140.0L1624.8 1140.0L1606.7 1140.0L1588.5 1140.0L1570.0 1140.0L1551.4 1140.0L1532.6 1140.0L1513.7 1140.0L1494.7 1140.0L1475.5 1140.0L1456.2 1140.0L1436.8 1140.0L1417.4 1140.0L1397.9 1140.0L1378.3 1140.0L1358.7 1140.0L1339.1 1140.0L1319.5 1140.0L1299.9 1140.0L1280.3 1140.0L1260.8 1140.0L1241.3 1140.0L1221.9 1140.0L1202.6 1140.0L1183.4 1140.0L1164.3 1140.0L1145.3 1140.0L1126.5 1140.0L1107.8 1140.0L1089.3 1140.0L1071.0 1140.0L1052.9 1140.0L1035.0 1140.0L1017.3 1137.7L999.9 1128.0L982.8 1117.9L965.9 1107.3L949.4 1096.3L933.1 1084.7L917.2 1072.7L901.5 1060.2L886.3 1047.3L871.4 1034.0L856.9 1020.2Z"/>
</g>
</svg>
</body>
</html>
